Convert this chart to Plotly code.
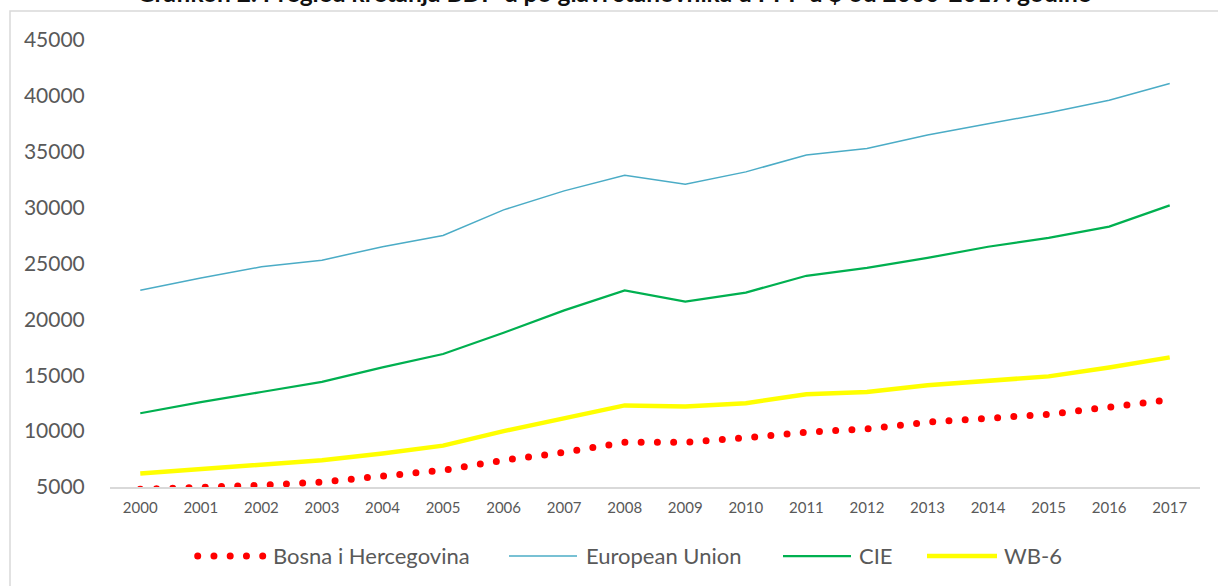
import plotly.graph_objects as go

# ---- data ----
years = list(range(2000, 2018))
bih = [4800, 4900, 5150, 5450, 5900, 6500, 7400, 8100, 9000, 9000, 9400, 9900, 10200, 10800, 11150, 11500, 12150, 12800]
eu = [22600, 23700, 24700, 25300, 26500, 27500, 29800, 31500, 32900, 32100, 33200, 34700, 35300, 36500, 37500, 38500, 39600, 41100]
cie = [11600, 12600, 13500, 14400, 15700, 16900, 18800, 20800, 22600, 21600, 22400, 23900, 24600, 25500, 26500, 27300, 28300, 30200]
wb6 = [6200, 6600, 7100, 7400, 8000, 8700, 10000, 11100, 12300, 12200, 12500, 13300, 13500, 14100, 14500, 14900, 15700, 16600]
y_ticks = [5000, 10000, 15000, 20000, 25000, 30000, 35000, 40000, 45000]
names = ["Bosna i Hercegovina", "European Union", "CIE", "WB-6"]
title_text = "Grafikon 2. Pregled kretanja BDP-a po glavi stanovnika u PPP u $ od 2000-2017. godine"

# ---- styling ----
W, H = 1218, 586
ML, MR, MT, MB = 110, 18, 40, 99
PW, PH = W - ML - MR, H - MT - MB
FONT = "Lato"
GRAY = "#595959"
colors = ["#FF0000", "#4BACC6", "#00B050", "#FFFF00"]
widths = [7, 1.5, 2.25, 4.5]
dashes = ["0px,16.25px", None, None, None]

def px_x(px):
    return (px - ML) / PW

def px_y(py):
    return (H - MB - py) / PH

fig = go.Figure()
for name, vals, c, w, d in zip(names, [bih, eu, cie, wb6], colors, widths, dashes):
    line = dict(color=c, width=w)
    if d:
        line["dash"] = d
    fig.add_trace(go.Scatter(x=years, y=vals, mode="lines", name=name,
                             line=line, showlegend=False))

shapes = []
annotations = []

# outer chart frame
shapes.append(dict(type="rect", xref="paper", yref="paper",
                   x0=px_x(10), x1=px_x(W + 10), y0=px_y(H + 10), y1=px_y(11),
                   line=dict(color="#D9D9D9", width=1.5), fillcolor="rgba(0,0,0,0)",
                   layer="below"))

# custom legend (Excel-style long symbols)
leg_y = px_y(555)
leg_items = [
    (197.7, 262.7, 271),
    (509, 577, 584),
    (783, 851, 857),
    (927, 997, 1002),
]
for (x0, x1, tx), name, c, w, d in zip(leg_items, names, colors, widths, dashes):
    ln = dict(color=c, width=w)
    if d:
        ln["dash"] = d
    shapes.append(dict(type="line", xref="paper", yref="paper",
                       x0=px_x(x0), x1=px_x(x1), y0=px_y(556), y1=px_y(556), line=ln))
    annotations.append(dict(text=name, xref="paper", yref="paper", x=px_x(tx), y=leg_y,
                            xanchor="left", yanchor="middle", showarrow=False,
                            font=dict(family=FONT, size=22, color=GRAY)))

# title (clipped at top in the original)
annotations.append(dict(text="<b>" + title_text + "</b>", xref="paper", yref="paper",
                        x=px_x(613.5), y=px_y(-7), xanchor="center", yanchor="middle",
                        showarrow=False, font=dict(family=FONT, size=24.5, color="#111111")))

fig.update_layout(
    width=W, height=H,
    margin=dict(l=ML, r=MR, t=MT, b=MB),
    paper_bgcolor="white", plot_bgcolor="white",
    showlegend=False,
    shapes=shapes, annotations=annotations,
    font=dict(family=FONT, color=GRAY),
)
fig.update_xaxes(range=[1999.5, 2017.5], tickvals=years, ticktext=[str(y) for y in years],
                 showgrid=False, zeroline=False, showline=True, linecolor="#D9D9D9", linewidth=1.5,
                 ticks="outside", ticklen=6, tickcolor="rgba(0,0,0,0)",
                 tickfont=dict(family=FONT, size=15, color=GRAY))
fig.update_yaxes(range=[5000, 45000], tickvals=y_ticks, tickformat="d",
                 showgrid=False, zeroline=False, showline=False,
                 ticks="outside", ticklen=20, tickcolor="rgba(0,0,0,0)",
                 tickfont=dict(family=FONT, size=21, color=GRAY))

post = """
document.body.style.margin = '0';
document.body.style.overflow = 'hidden';
document.querySelectorAll('path').forEach(function(p){
  var d = p.style.strokeDasharray;
  if (d && d !== 'none' && d.trim().indexOf('0px') === 0) { p.style.strokeLinecap = 'round'; }
});
"""
fig.write_html("out.html", post_script=post, config={"displayModeBar": False})
